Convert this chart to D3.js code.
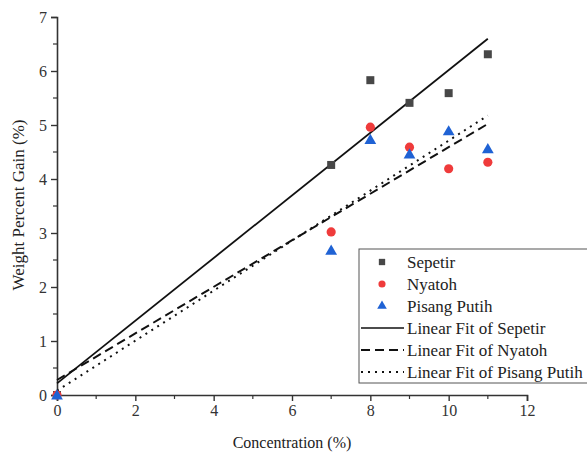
<!DOCTYPE html>
<html><head><meta charset="utf-8">
<script src="https://cdn.jsdelivr.net/npm/d3@7"></script>
<style>body{margin:0;background:#fff}svg{display:block}</style>
</head><body><svg id="c" width="587" height="454"></svg>
<script>
const concentrations = [0, 7, 8, 9, 10, 11];
const sepetir = [0, 4.26, 5.83, 5.41, 5.59, 6.31];
const nyatoh = [0, 3.02, 4.96, 4.59, 4.19, 4.31];
const pisangPutih = [0, 2.68, 4.73, 4.46, 4.89, 4.56];
const seriesNames = ["Sepetir", "Nyatoh", "Pisang Putih"];
const fitNames = ["Linear Fit of Sepetir", "Linear Fit of Nyatoh", "Linear Fit of Pisang Putih"];
const xTicks = [0, 2, 4, 6, 8, 10, 12];
const yTicks = [0, 1, 2, 3, 4, 5, 6, 7];

const FONT = "'Liberation Serif', 'Times New Roman', Tinos, 'DejaVu Serif', serif";
const svg = d3.select("#c");
const x = d3.scaleLinear().domain([0, 12]).range([57, 527]);
const y = d3.scaleLinear().domain([0, 7]).range([395, 17]);

function fit(xs, ys) {
  const n = xs.length, mx = d3.mean(xs), my = d3.mean(ys);
  let sxy = 0, sxx = 0;
  for (let i = 0; i < n; i++) { sxy += (xs[i]-mx)*(ys[i]-my); sxx += (xs[i]-mx)**2; }
  const b = sxy/sxx; return {a: my - b*mx, b};
}

const styles = [
  {color: "#474747", shape: d3.symbolSquare, size: 64, dash: null},
  {color: "#ef3b3b", shape: d3.symbolCircle, size: 66, dash: "9,5"},
  {color: "#1f62d4", shape: d3.symbolTriangle, size: 60, dash: "2,5"}
];
const data = [sepetir, nyatoh, pisangPutih];

// axes
const xAxis = d3.axisBottom(x).tickValues(xTicks).tickSize(6).tickPadding(4).tickFormat(d3.format("d"));
const gx = svg.append("g").attr("transform", "translate(0,395)").call(xAxis);
const yAxis = d3.axisLeft(y).tickValues(yTicks).tickSize(6).tickPadding(4).tickFormat(d3.format("d"));
const gy = svg.append("g").attr("transform", "translate(57,0)").call(yAxis);
[gx, gy].forEach(g => {
  g.attr("font-family", FONT).attr("font-size", 16);
  g.select(".domain").attr("stroke", "#333").attr("stroke-width", 1.6);
  g.selectAll(".tick line").attr("stroke", "#333").attr("stroke-width", 1.4);
  g.selectAll(".tick text").attr("fill", "#333");
});
// minor ticks
svg.append("g").selectAll("line").data(d3.range(1, 12, 2)).join("line")
  .attr("x1", d => x(d)).attr("x2", d => x(d)).attr("y1", 395).attr("y2", 399)
  .attr("stroke", "#333").attr("stroke-width", 1.2);
svg.append("g").selectAll("line").data(d3.range(0.5, 7, 1)).join("line")
  .attr("y1", d => y(d)).attr("y2", d => y(d)).attr("x1", 57).attr("x2", 53)
  .attr("stroke", "#333").attr("stroke-width", 1.2);

// axis titles
svg.append("text").attr("x", 292).attr("y", 448).attr("text-anchor", "middle")
  .attr("font-family", FONT).attr("font-size", 16).attr("fill", "#222").text("Concentration (%)");
svg.append("text").attr("transform", "translate(24,205) rotate(-90)").attr("text-anchor", "middle")
  .attr("font-family", FONT).attr("font-size", 17).attr("fill", "#222").text("Weight Percent Gain (%)");

// fit lines
data.forEach((ys, i) => {
  const f = fit(concentrations, ys);
  svg.append("line")
    .attr("x1", x(0)).attr("y1", y(f.a)).attr("x2", x(11)).attr("y2", y(f.a + f.b*11))
    .attr("stroke", "#111").attr("stroke-width", i === 0 ? 1.8 : 2)
    .attr("stroke-dasharray", styles[i].dash);
});

// points
data.forEach((ys, i) => {
  svg.append("g").selectAll("path").data(concentrations.map((c, j) => [c, ys[j]])).join("path")
    .attr("transform", d => `translate(${x(d[0])},${y(d[1]) + (i === 2 ? 1 : 0)})`)
    .attr("d", d3.symbol().type(styles[i].shape).size(styles[i].size))
    .attr("fill", styles[i].color);
});

// legend
const lg = svg.append("g");
lg.append("rect").attr("x", 359).attr("y", 249).attr("width", 240).attr("height", 134)
  .attr("fill", "#fff").attr("stroke", "#555").attr("stroke-width", 1);
const rowY = d3.range(6).map(i => 262 + i * 22);
seriesNames.forEach((n, i) => {
  lg.append("path").attr("transform", `translate(382,${rowY[i]})`)
    .attr("d", d3.symbol().type(styles[i].shape).size(40)).attr("fill", styles[i].color);
  lg.append("text").attr("x", 407).attr("y", rowY[i] + 6).attr("font-family", FONT)
    .attr("font-size", 17).attr("fill", "#222").text(n);
});
fitNames.forEach((n, i) => {
  const yy = rowY[i + 3];
  lg.append("line").attr("x1", 361).attr("x2", 404).attr("y1", yy).attr("y2", yy)
    .attr("stroke", "#111").attr("stroke-width", i === 0 ? 1.4 : 2)
    .attr("stroke-dasharray", styles[i].dash);
  lg.append("text").attr("x", 407).attr("y", yy + 6).attr("font-family", FONT)
    .attr("font-size", 17).attr("fill", "#222").text(n);
});
</script></body></html>
